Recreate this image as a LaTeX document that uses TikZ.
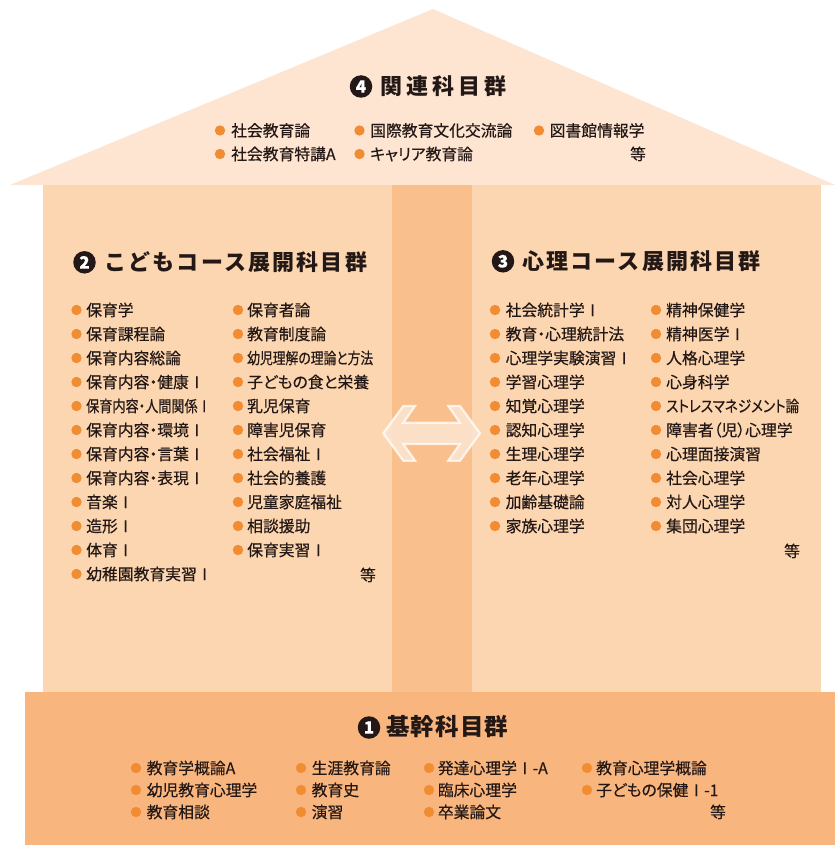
\documentclass[tikz,border=0pt]{standalone}
\usepackage{fontspec}
\setmainfont{Noto Sans CJK JP}[RawFeature=+palt,FakeBold=0.4]
\newfontfamily\fwfont{Noto Sans CJK JP}[FakeBold=0.4]
\newfontfamily\titlefont{Noto Sans CJK JP}
\usepackage{graphicx}
\definecolor{roofclr}{RGB}{253,229,210}
\definecolor{wallclr}{RGB}{252,214,176}
\definecolor{pillarclr}{RGB}{249,191,141}
\definecolor{baseclr}{RGB}{249,181,126}
\definecolor{dotclr}{RGB}{242,140,50}
\definecolor{txtclr}{RGB}{35,24,21}
\newcommand\MyNarrow[2]{\scalebox{#1}[1]{#2}}
\newcommand\RomI{{\fwfont Ⅰ}}
\tikzset{
    MySubj/.style={anchor=west,inner sep=0pt,text=txtclr,
    font=\fontsize{15.8}{18}\selectfont,text height=13.9pt,text depth=1.9pt},
    MyDot/.style={fill=dotclr},
    MyTitle/.style={anchor=west,inner sep=0pt,text=txtclr,
    font=\titlefont\bfseries\fontsize{22}{24}\selectfont\addfontfeature{LetterSpace=#1},
    text height=19.4pt,text depth=2.6pt},
    MyTitle/.default=10,
    MyNum/.style={circle,fill=txtclr,text=white,inner sep=0pt,minimum size=22.5pt,
    font=\fwfont\bfseries\fontsize{17}{17}\selectfont},
    MyArrow/.style={fill=roofclr,fill opacity=0.85,draw=white,draw opacity=0.75,
    line width=2.2pt,line join=miter}    }

\begin{document}
\begin{tikzpicture}[x=1pt,y=-1pt]
    \useasboundingbox (0,0) rectangle (835,845);

    % house: roof, walls, middle pillar, base
    \fill[roofclr] (10,185) -- (433,9) -- (835,185) -- cycle;
    \fill[wallclr] (43,185) rectangle (392,692);
    \fill[wallclr] (472,185) rectangle (821,692);
    \fill[pillarclr] (392,185) rectangle (472,692);
    \fill[baseclr] (25,692) rectangle (835,845);

    % double arrow between the two courses
    \filldraw[MyArrow] (383.3,433.3) -- (403.3,406) -- (415,406) -- (403.3,422.7)
        -- (460,422.7) -- (448.3,406) -- (460,406) -- (480,433.3) -- (460,460.7)
        -- (448.3,460.7) -- (460,444) -- (403.3,444) -- (415,460.7) -- (403.3,460.7)
        -- cycle;

    % 4: roof
    \node[MyNum] (kanrenN) at (361,86.5) {4};
    \node[MyTitle=18] (kanrenT) at (380.5,86.5) {関連科目群};
    \foreach \s [count=\i from 0] in {社会教育論,社会教育特講A}
    {
    \fill[MyDot] (220,{130.5+23.5*\i}) circle (5.2pt);
    \node[MySubj] (kanrenA\i) at (231,{130.5+23.5*\i}) {\s};
    }
    \foreach \s [count=\i from 0] in {国際教育文化交流論,キャリア教育論}
    {
    \fill[MyDot] (359.5,{130.5+23.5*\i}) circle (5.2pt);
    \node[MySubj] (kanrenB\i) at (370,{130.5+23.5*\i}) {\s};
    }
    \fill[MyDot] (539,130.5) circle (5.2pt);
    \node[MySubj] (kanrenC0) at (549.5,130.5) {図書館情報学};
    \node[MySubj,anchor=center] (kanrenEtc) at (638,154) {等};

    % 2: kodomo course
    \node[MyNum] (kodomoN) at (84.5,262.3) {2};
    \node[MyTitle] (kodomoT) at (104,262.3) {こどもコース展開科目群};
    \foreach \s [count=\i from 0] in {保育学,保育課程論,保育内容総論,保育内容・健康\RomI,
        \MyNarrow{0.83}{保育内容・人間関係\RomI},保育内容・環境\RomI,保育内容・言葉\RomI,
        保育内容・表現\RomI,音楽\RomI,造形\RomI,体育\RomI,幼稚園教育実習\RomI}
    {
    \fill[MyDot] (76.5,{310+24*\i}) circle (5.2pt);
    \node[MySubj] (kodomoA\i) at (86,{310+24*\i}) {\s};
    }
    \foreach \s [count=\i from 0] in {保育者論,教育制度論,\MyNarrow{0.81}{幼児理解の理論と方法},
        子どもの食と栄養,乳児保育,障害児保育,社会福祉\RomI,社会的養護,児童家庭福祉,
        相談援助,保育実習\RomI}
    {
    \fill[MyDot] (238,{310+24*\i}) circle (5.2pt);
    \node[MySubj] (kodomoB\i) at (247,{310+24*\i}) {\s};
    }
    \node[MySubj,anchor=center] (kodomoEtc) at (368,575) {等};

    % 3: shinri course
    \node[MyNum] (shinriN) at (503,261.3) {3};
    \node[MyTitle] (shinriT) at (522,261.3) {心理コース展開科目群};
    \foreach \s [count=\i from 0] in {社会統計学\RomI,教育・心理統計法,心理学実験演習\RomI,
        学習心理学,知覚心理学,認知心理学,生理心理学,老年心理学,加齢基礎論,家族心理学}
    {
    \fill[MyDot] (495,{310+24*\i}) circle (5.2pt);
    \node[MySubj] (shinriA\i) at (505.5,{310+24*\i}) {\s};
    }
    \foreach \s [count=\i from 0] in {精神保健学,精神医学\RomI,人格心理学,心身科学,
        \MyNarrow{0.86}{ストレスマネジメント論},障害者（児）心理学,心理面接演習,社会心理学,
        対人心理学,集団心理学}
    {
    \fill[MyDot] (656,{310+24*\i}) circle (5.2pt);
    \node[MySubj] (shinriB\i) at (666,{310+24*\i}) {\s};
    }
    \node[MySubj,anchor=center] (shinriEtc) at (792,551) {等};

    % 1: base
    \node[MyNum] (kikanN) at (369,727.5) {1};
    \node[MyTitle=8,font=\titlefont\bfseries\fontsize{23.5}{25}\selectfont\addfontfeature{LetterSpace=5}]
        (kikanT) at (386,727.5) {基幹科目群};
    \foreach \s [count=\i from 0] in {教育学概論A,幼児教育心理学,教育相談}
    {
    \fill[MyDot] (136,{768+22*\i}) circle (5.2pt);
    \node[MySubj] (kikanA\i) at (146.5,{768+22*\i}) {\s};
    }
    \foreach \s [count=\i from 0] in {生涯教育論,教育史,演習}
    {
    \fill[MyDot] (301,{768+22*\i}) circle (5.2pt);
    \node[MySubj] (kikanB\i) at (311.5,{768+22*\i}) {\s};
    }
    \foreach \s [count=\i from 0] in {発達心理学\RomI-A,臨床心理学,卒業論文}
    {
    \fill[MyDot] (429,{768+22*\i}) circle (5.2pt);
    \node[MySubj] (kikanC\i) at (437.7,{768+22*\i}) {\s};
    }
    \foreach \s [count=\i from 0] in {教育心理学概論,子どもの保健\RomI-1}
    {
    \fill[MyDot] (587,{768+22*\i}) circle (5.2pt);
    \node[MySubj] (kikanD\i) at (596,{768+22*\i}) {\s};
    }
    \node[MySubj,anchor=center] (kikanEtc) at (718,812) {等};
\end{tikzpicture}
\end{document}
